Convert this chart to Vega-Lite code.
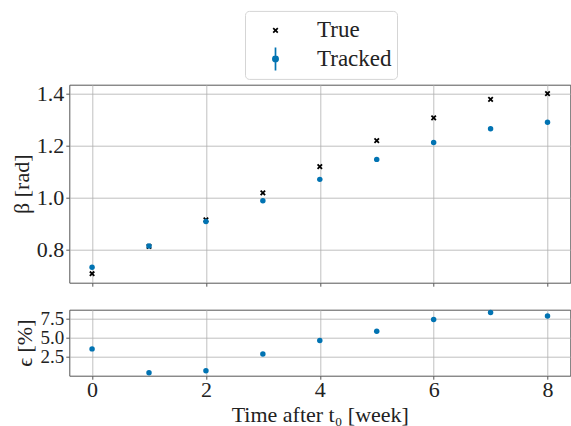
{
  "$schema": "https://vega.github.io/schema/vega-lite/v6.json",
  "padding": {"left": 9.3, "top": 9.7, "right": 2, "bottom": 2},
  "datasets": {
    "beta": [
      {"week": 0, "value": 0.7065, "series": "True"},
      {"week": 1, "value": 0.8115, "series": "True"},
      {"week": 2, "value": 0.914, "series": "True"},
      {"week": 3, "value": 1.018, "series": "True"},
      {"week": 4, "value": 1.119, "series": "True"},
      {"week": 5, "value": 1.219, "series": "True"},
      {"week": 6, "value": 1.307, "series": "True"},
      {"week": 7, "value": 1.378, "series": "True"},
      {"week": 8, "value": 1.4, "series": "True"},
      {"week": 0, "value": 0.7315, "series": "Tracked"},
      {"week": 1, "value": 0.813, "series": "Tracked"},
      {"week": 2, "value": 0.908, "series": "Tracked"},
      {"week": 3, "value": 0.988, "series": "Tracked"},
      {"week": 4, "value": 1.07, "series": "Tracked"},
      {"week": 5, "value": 1.147, "series": "Tracked"},
      {"week": 6, "value": 1.212, "series": "Tracked"},
      {"week": 7, "value": 1.265, "series": "Tracked"},
      {"week": 8, "value": 1.29, "series": "Tracked"}
    ],
    "err": [
      {"week": 0, "eps": 3.55},
      {"week": 1, "eps": 0.43},
      {"week": 2, "eps": 0.7},
      {"week": 3, "eps": 2.89},
      {"week": 4, "eps": 4.64},
      {"week": 5, "eps": 5.87},
      {"week": 6, "eps": 7.41},
      {"week": 7, "eps": 8.3},
      {"week": 8, "eps": 7.84}
    ]
  },
  "vconcat": [
    {
      "width": 501,
      "height": 198,
      "layer": [
        {
          "data": {"name": "beta"},
          "transform": [{"filter": "datum.series === 'True'"}],
          "mark": {"type": "point", "shape": "M-1,-1L1,1M-1,1L1,-1", "filled": false, "stroke": "black", "strokeWidth": 1.8, "size": 20, "opacity": 1},
          "encoding": {
            "x": {"field": "week", "type": "quantitative", "scale": {"domain": [-0.4, 8.4], "nice": false, "zero": false},
                  "axis": {"values": [0, 2, 4, 6, 8], "labels": false, "title": null, "grid": true}},
            "y": {"field": "value", "type": "quantitative", "scale": {"domain": [0.672, 1.4347], "nice": false, "zero": false},
                  "axis": {"values": [0.8, 1.0, 1.2, 1.4], "format": ".1f", "title": "β [rad]", "grid": true, "titlePadding": 3}}
          }
        },
        {
          "data": {"name": "beta"},
          "transform": [{"filter": "datum.series === 'Tracked'"}],
          "mark": {"type": "point", "shape": "circle", "filled": true, "color": "#0173B2", "size": 30, "opacity": 1},
          "encoding": {
            "x": {"field": "week", "type": "quantitative"},
            "y": {"field": "value", "type": "quantitative"}
          }
        },
        {
          "data": {"name": "beta"},
          "transform": [{"filter": "datum.week < 0"}],
          "mark": {"type": "point", "filled": true, "opacity": 1},
          "encoding": {
            "x": {"field": "week", "type": "quantitative"},
            "y": {"field": "value", "type": "quantitative"},
            "shape": {"field": "series", "type": "nominal",
              "scale": {"domain": ["True", "Tracked"], "range": ["M-0.175,-0.175L0.175,0.175M-0.175,0.175L0.175,-0.175", "M-0.2,0A0.2,0.2 0 1,0 0.2,0A0.2,0.2 0 1,0 -0.2,0ZM0,-0.875L0,0.875"]},
              "legend": {"title": null, "orient": "none", "legendX": 175.7, "legendY": -73.8, "direction": "vertical",
                "symbolSize": 692, "symbolStrokeWidth": 1.7, "symbolOffset": 11, "labelOffset": 27, "padding": 5, "rowPadding": 0.5,
                "labelFont": "Liberation Serif", "labelFontSize": 23, "labelColor": "#222", "strokeColor": "#d5d5d5", "fillColor": "white", "cornerRadius": 4, "symbolOpacity": 1}},
            "fill": {"field": "series", "type": "nominal", "scale": {"domain": ["True", "Tracked"], "range": ["black", "#0173B2"]}},
            "stroke": {"field": "series", "type": "nominal", "scale": {"domain": ["True", "Tracked"], "range": ["black", "#0173B2"]}}
          }
        }
      ]
    },
    {
      "width": 501,
      "height": 66,
      "data": {"name": "err"},
      "mark": {"type": "point", "shape": "circle", "filled": true, "color": "#0173B2", "size": 30, "opacity": 1},
      "encoding": {
        "x": {"field": "week", "type": "quantitative", "scale": {"domain": [-0.4, 8.4], "nice": false, "zero": false},
              "axis": {"values": [0, 2, 4, 6, 8], "title": "Time after t₀ [week]", "grid": true, "titlePadding": 4, "labelPadding": 0.5}},
        "y": {"field": "eps", "type": "quantitative", "scale": {"domain": [0.04, 8.68], "nice": false, "zero": false},
              "axis": {"values": [2.5, 5.0, 7.5], "format": ".1f", "title": "ϵ [%]", "grid": true, "titlePadding": 4, "labelOverlap": false, "labelFontSize": 19}}
      }
    }
  ],
  "spacing": 27,
  "bounds": "flush",
  "config": {
    "font": "Liberation Serif",
    "view": {"stroke": "#555", "strokeWidth": 1},
    "axis": {"labelFont": "Liberation Serif", "labelFontSize": 22, "labelColor": "#222", "titleFont": "Liberation Serif", "titleFontSize": 22, "titleFontWeight": "normal", "titleColor": "#222", "gridColor": "#b0b0b0", "gridWidth": 0.8, "tickColor": "#555", "tickSize": 3.5, "domain": false, "labelPadding": 2}
  }
}
